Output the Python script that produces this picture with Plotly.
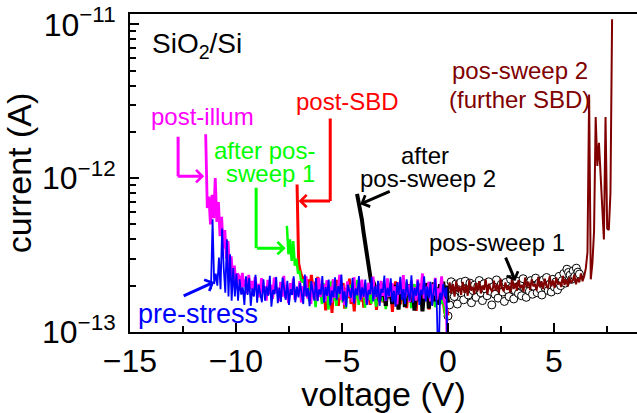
import numpy as np
import plotly.graph_objects as go

# Currents are listed in units of 1e-13 A; each sweep runs linearly between its end voltages.
SCALE = 1e-13

pre_stress_v = (-11.18, 0.0)
pre_stress_i = [
    1.90, 5.40, 2.05, 2.40, 2.00, 3.05, 1.90, 4.70, 2.60, 1.80,
    4.00, 1.70, 3.20, 1.60, 2.60, 1.70, 2.40, 1.60, 2.20, 1.75,
    1.95, 1.50, 2.30, 1.74, 2.25, 1.48, 1.92, 1.70, 2.35, 1.55,
    2.02, 1.80, 1.56, 2.20, 1.60, 1.98, 1.72, 2.32, 1.46, 1.88,
    1.76, 2.28, 1.54, 1.94, 1.57, 2.26, 1.83, 1.62, 2.15, 1.50,
    1.90, 1.74, 2.30, 1.56, 1.97, 1.68, 2.08, 1.78, 1.52, 2.36,
    1.70, 1.93, 1.47, 2.14, 1.81, 1.60, 2.24, 1.59, 1.89, 1.75,
    2.31, 1.55, 1.96, 1.72, 2.19, 1.49, 1.86, 1.68, 2.27, 1.61,
    1.99, 1.77, 2.36, 1.58, 1.84, 1.45, 2.03, 1.79, 1.67, 2.24,
    1.53, 1.92, 1.73, 2.31, 1.62, 1.95, 1.70, 2.19, 1.50, 1.87,
    1.76, 2.27, 1.58, 1.98, 1.69, 2.15, 1.48, 1.91, 1.80, 2.33,
    1.60, 1.94, 1.71, 2.23, 1.56, 1.85, 1.46, 2.10, 1.74, 2.28,
    1.62, 1.90, 1.52, 2.20, 1.78, 1.60, 2.34, 1.55, 1.93, 1.72,
    2.16, 1.50, 1.88, 1.75, 2.30, 1.58, 1.97, 1.66, 2.12, 1.48,
    1.83, 2.22, 1.42, 0.55, 1.80, 1.62, 2.05, 1.70, 1.95, 0.45,
]

post_illum_v = (-11.43, 0.0)
post_illum_i = [
    19.3, 6.40, 7.60, 5.00, 7.80, 5.50, 10.0, 5.20, 7.00, 4.20,
    5.60, 3.50, 4.60, 3.00, 3.90, 2.60, 3.10, 2.20, 2.70, 2.00,
    2.40,
    2.30, 1.85, 2.42, 1.96, 2.20, 1.78, 2.35, 1.90, 2.15, 1.72,
    2.28, 1.88, 2.05, 1.68, 2.24, 1.82, 1.98, 1.60, 2.18, 1.76,
    2.02, 1.64, 2.26, 1.80, 1.94, 1.58, 2.12, 1.70, 2.32, 1.66,
    1.92, 1.54, 2.08, 1.78, 2.22, 1.62, 1.88, 1.74, 2.14, 1.56,
    1.99, 1.71, 2.30, 1.65, 1.86, 1.52, 2.10, 1.77, 1.95, 1.60,
    2.25, 1.69, 1.84, 2.04, 1.58, 2.17, 1.73, 1.97, 1.55, 2.21,
    1.67, 1.90, 1.79, 2.35, 1.62, 2.00, 1.50, 1.87, 2.13, 1.70,
    1.93, 1.57, 2.27, 1.75, 1.82, 2.06, 1.61, 2.19, 1.68, 1.96,
    1.53, 2.09, 1.76, 1.89, 2.29, 1.64, 1.81, 2.01, 1.56, 2.15,
    1.72, 1.94, 1.59, 2.23, 1.69, 1.85, 2.07, 1.63, 1.98, 1.51,
    2.11, 1.78, 1.91, 2.34, 1.66, 1.83, 2.03, 1.57, 2.16, 1.74,
    1.95, 1.60, 2.20, 1.70, 1.88, 2.40, 1.65, 1.97, 1.80, 2.12,
    1.58, 2.05, 1.73, 2.25, 1.62, 1.92, 1.77, 2.30, 1.68, 1.55,
    1.45, 0.45,
]

after_pos1_v = (-7.60, 0.0)
after_pos1_i = [
    4.90, 3.20, 4.00, 2.90, 3.90, 2.70, 3.00, 2.40, 2.50, 2.10,
    2.20,
    2.05, 1.72, 1.95, 1.58, 2.12, 1.66, 1.88, 1.45, 2.00, 1.70,
    1.84, 1.52, 2.08, 1.63, 1.92, 1.40, 1.78, 2.15, 1.60, 1.86,
    1.48, 1.98, 1.68, 2.10, 1.55, 1.82, 1.42, 1.94, 1.74, 2.03,
    1.57, 1.89, 1.65, 2.18, 1.50, 1.80, 1.70, 1.96, 1.44, 2.06,
    1.62, 1.87, 1.53, 2.00, 1.76, 1.46, 1.93, 1.67, 2.14, 1.58,
    1.83, 1.41, 1.97, 1.71, 2.09, 1.56, 1.90, 1.64, 1.79, 1.47,
    2.02, 1.69, 1.85, 1.54, 2.11, 1.61, 1.94, 1.43, 1.81, 2.05,
    1.59, 1.88, 1.72, 1.99, 1.49, 1.84, 1.66, 2.07, 1.57, 1.91,
    1.63, 1.78, 1.45, 1.96, 1.70, 1.86, 1.52, 1.74, 1.35, 1.22,
    1.25,
]

post_sbd_v = (-7.12, 0.0)
post_sbd_i = [
    9.10, 2.80, 2.50, 2.30, 2.10, 2.30, 1.90,
    2.20, 1.78, 2.35, 1.90, 2.12, 1.65, 2.28, 1.82, 2.05, 1.55,
    1.95, 1.38, 2.10, 1.70, 1.88, 1.33, 2.00, 1.62, 2.18, 1.48,
    1.86, 1.75, 2.08, 1.42, 1.93, 1.66, 2.22, 1.52, 1.80, 1.36,
    1.98, 1.72, 2.14, 1.58, 1.90, 1.44, 2.04, 1.68, 1.84, 1.50,
    2.16, 1.63, 1.96, 1.39, 1.87, 1.74, 2.09, 1.56, 1.82, 1.46,
    2.01, 1.69, 1.92, 1.35, 1.78, 2.13, 1.60, 1.89, 1.51, 2.06,
    1.71, 1.85, 1.43, 1.99, 1.64, 2.11, 1.54, 1.83, 1.37, 1.95,
    1.73, 2.02, 1.49, 1.88, 1.67, 2.07, 1.40, 1.81, 1.59, 1.97,
    1.47, 1.86, 1.70, 1.53, 1.90, 1.62, 1.32, 1.45, 1.28,
]

after_pos2_v = (-4.29, 0.0)
after_pos2_i = [
    7.90, 7.00, 6.20, 5.40, 4.50, 3.80, 3.20, 2.70, 2.30, 2.05,
    2.15,
    2.00, 1.75, 1.92, 1.60, 2.05, 1.70, 1.85, 1.48, 1.98, 1.66,
    1.88, 1.52, 2.02, 1.72, 1.80, 1.40, 1.95, 1.64, 1.90, 1.45,
    1.84, 1.70, 2.04, 1.56, 1.86, 1.38, 1.93, 1.74, 1.60, 2.06,
    1.36, 1.82, 1.68, 2.08, 1.42, 1.88, 1.72, 2.10, 1.58, 1.95,
    1.50, 2.05, 1.76, 2.12, 1.65, 2.00, 1.55,
]

pos_sweep1_v = (0.0, 6.20)
pos_sweep1_i = [
    1.27, 1.50,
    2.12, 1.88, 1.70, 2.05, 1.52, 1.95, 2.10, 1.78, 1.62, 2.14,
    1.92, 1.74, 2.08, 1.55, 1.86, 2.02, 1.68, 1.98, 2.16, 1.80,
    1.60, 2.06, 1.90, 1.72, 2.12, 1.84, 1.50, 1.97, 1.76, 2.18,
    1.66, 1.94, 2.04, 1.82, 1.58, 2.10, 1.88, 1.70, 2.20, 1.96,
    1.64, 1.86, 2.14, 1.78, 2.02, 1.72, 2.22, 1.92, 1.68, 2.06,
    1.84, 2.16, 1.76, 1.98, 2.24, 1.80, 2.08, 1.90, 1.74, 2.18,
    1.94, 2.26, 1.86, 2.04, 1.82, 2.20, 1.96, 2.12, 1.88, 2.30,
    2.00, 2.16, 2.40, 2.08, 2.56, 2.44, 2.34, 2.20, 2.50, 2.30,
    2.60, 2.45, 2.38,
]

pos_sweep2_v = (0.0, 7.74)
pos_sweep2_i = [
    1.85, 2.10, 1.78, 2.05, 1.70, 2.15, 1.82, 1.98, 1.74, 2.12,
    1.80, 2.02, 1.72, 2.18, 1.86, 1.96, 1.76, 2.08, 1.84, 2.14,
    1.78, 2.00, 1.88, 2.20, 1.75, 2.06, 1.90, 1.82, 2.16, 1.86,
    2.04, 1.79, 2.22, 1.92, 1.84, 2.10, 1.88, 2.00, 1.80, 2.24,
    1.90, 2.08, 1.85, 2.18, 1.94, 2.02, 1.83, 2.26, 1.96, 2.12,
    1.88, 2.20, 1.98, 2.05, 1.86, 2.28, 1.95, 2.14, 1.90, 2.22,
    2.00, 1.92, 2.30, 1.98, 2.16, 1.94, 2.26, 2.04, 2.12, 1.96,
    2.32, 2.02, 2.20, 1.98, 2.28, 2.08, 2.16, 2.36, 2.04, 2.24,
    2.10, 2.40, 2.14, 2.30, 2.60, 3.30,
    35.0, 2.20, 2.80, 4.50, 25.0, 12.0, 17.0, 11.0, 6.00, 4.00,
    25.0, 4.70, 4.60, 8.00, 108.0,
]

x_tick_vals = [-15, -10, -5, 0, 5]
x_tick_text = ["\u221215", "\u221210", "\u22125", "0", "5"]
y_tick_vals = [1e-13, 1e-12, 1e-11]
y_tick_text = ["10<sup>\u221213</sup>", "10<sup>\u221212</sup>", "10<sup>\u221211</sup>"]

FONT = "Liberation Sans, Arial, sans-serif"
BLUE, MAGENTA, GREEN, RED, MAROON = "#0000ff", "#ff00ff", "#00ff00", "#ff0000", "#800000"


def sweep(v_ends, currents):
    v = np.linspace(v_ends[0], v_ends[1], len(currents))
    return v, np.asarray(currents) * SCALE


fig = go.Figure()

v, i = sweep(pos_sweep1_v, pos_sweep1_i)
fig.add_trace(go.Scatter(x=v, y=i, mode="markers", name="pos-sweep 1",
                         marker=dict(symbol="circle", size=8, color="white",
                                     line=dict(color="black", width=1))))
v, i = sweep(pos_sweep2_v, pos_sweep2_i)
fig.add_trace(go.Scatter(x=v, y=i, mode="lines", name="pos-sweep 2",
                         line=dict(color=MAROON, width=2)))
v, i = sweep(post_sbd_v, post_sbd_i)
fig.add_trace(go.Scatter(x=v, y=i, mode="lines", name="post-SBD",
                         line=dict(color=RED, width=3)))
v, i = sweep(after_pos1_v, after_pos1_i)
fig.add_trace(go.Scatter(x=v, y=i, mode="lines", name="after pos-sweep 1",
                         line=dict(color=GREEN, width=2.5)))
v, i = sweep(after_pos2_v, after_pos2_i)
fig.add_trace(go.Scatter(x=v, y=i, mode="lines", name="after pos-sweep 2",
                         line=dict(color="black", width=4)))
v, i = sweep(post_illum_v, post_illum_i)
fig.add_trace(go.Scatter(x=v, y=i, mode="lines", name="post-illum",
                         line=dict(color=MAGENTA, width=2.8)))
v, i = sweep(pre_stress_v, pre_stress_i)
fig.add_trace(go.Scatter(x=v, y=i, mode="lines", name="pre-stress",
                         line=dict(color=BLUE, width=1.8)))

# text labels (x in V, y in log10 of current)
labels = [
    ("SiO<sub>2</sub>/Si", -14.06, -11.14, "black", 28, "left"),
    ("post-illum", -11.57, -11.60, MAGENTA, 24, "center"),
    ("after pos-", -8.67, -11.82, GREEN, 24, "center"),
    ("sweep 1", -8.39, -11.97, GREEN, 24, "center"),
    ("post-SBD", -4.75, -11.50, RED, 24, "center"),
    ("after", -1.09, -11.85, "black", 24, "center"),
    ("pos-sweep 2", -0.95, -12.00, "black", 24, "center"),
    ("pos-sweep 2", 3.38, -11.30, MAROON, 24, "center"),
    ("(further SBD)", 3.36, -11.49, MAROON, 24, "center"),
    ("pos-sweep 1", 2.29, -12.42, "black", 24, "center"),
    ("pre-stress", -11.79, -12.88, BLUE, 27, "center"),
]
for text, x, y, color, size, anchor in labels:
    fig.add_annotation(x=x, y=y, xref="x", yref="y", text=text, showarrow=False,
                       xanchor=anchor, yanchor="middle",
                       font=dict(family=FONT, size=size, color=color))

# pointer arrows: tip in data units, tail as pixel offset; head 0 = plain segment
arrows = [
    (-12.73, -11.987, 0, -40, MAGENTA, 0),
    (-11.50, -11.987, -27, 0, MAGENTA, 4),
    (-9.05, -12.455, 0, -61, GREEN, 0),
    (-7.66, -12.455, -29, 0, GREEN, 4),
    (-5.555, -12.149, 0, -83, RED, 0),
    (-7.05, -12.149, 32, 0, RED, 4),
    (-4.14, -12.169, 30, -13, "black", 4),
    (3.18, -12.669, -10, -24, "black", 4),
    (-11.03, -12.675, -31, 14, BLUE, 4),
]
for x, y, ax, ay, color, head in arrows:
    fig.add_annotation(x=x, y=y, xref="x", yref="y", ax=ax, ay=ay, text="",
                       showarrow=True, arrowhead=head, arrowsize=0.8, arrowwidth=3,
                       arrowcolor=color, standoff=0, startstandoff=0, borderpad=0)

axis_font = dict(family=FONT, size=32, color="black")
title_font = dict(family=FONT, size=34, color="black")

fig.update_xaxes(
    range=[-15, 8.915], tickmode="array", tickvals=x_tick_vals, ticktext=x_tick_text,
    ticks="inside", ticklen=9, tickwidth=2, tickcolor="black",
    minor=dict(tickvals=[-12.5, -7.5, -2.5, 2.5, 7.5], ticks="inside", ticklen=6,
               tickwidth=2, tickcolor="black", showgrid=False),
    showline=True, linewidth=2, linecolor="black", mirror=True,
    showgrid=False, zeroline=False, tickfont=axis_font,
    title=dict(text="voltage (V)", font=title_font, standoff=1),
)
fig.update_yaxes(
    type="log", range=[-13, -10.933], tickmode="array",
    tickvals=y_tick_vals, ticktext=y_tick_text,
    ticks="inside", ticklen=9, tickwidth=2, tickcolor="black",
    minor=dict(tickvals=[k * 10.0 ** e for e in (-13, -12, -11) for k in range(2, 10)],
               ticks="inside", ticklen=6, tickwidth=2, tickcolor="black", showgrid=False),
    showline=True, linewidth=2, linecolor="black", mirror=False,
    showgrid=False, zeroline=False, tickfont=axis_font, ticklabelstandoff=6,
    title=dict(text="current (A)", font=title_font, standoff=8),
)

fig.update_layout(
    width=637, height=413, margin=dict(l=130, r=0, t=14, b=81),
    paper_bgcolor="white", plot_bgcolor="white", showlegend=False,
    font=dict(family=FONT, color="black"),
)

fig.write_html("out.html")
